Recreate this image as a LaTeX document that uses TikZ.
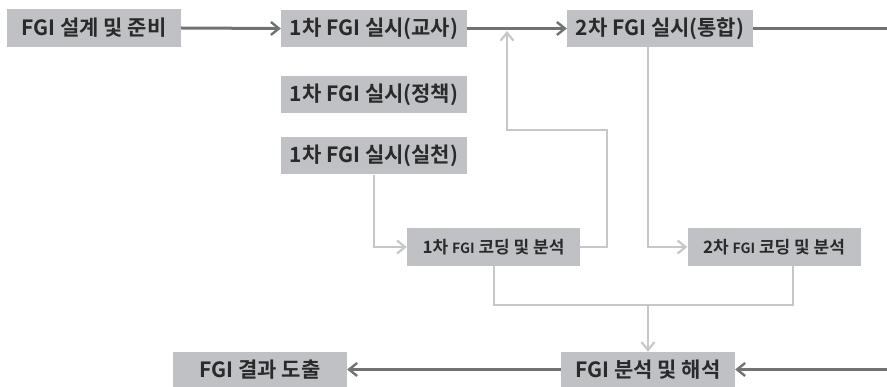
\documentclass[tikz,border=0pt]{standalone}
\usepackage{fontspec}
\setmainfont{Noto Sans CJK KR}[BoldFont={Noto Sans CJK KR Bold}]
\usetikzlibrary{arrows.meta}
\definecolor{boxgray}{HTML}{C0C1C5}
\definecolor{darkline}{HTML}{727274}
\definecolor{lightline}{HTML}{C6C7C9}
\definecolor{txt}{HTML}{2A2A2A}
\tikzset{
  box/.style={fill=boxgray, inner sep=0pt, minimum width=174pt, minimum height=38pt, text=txt, font=\fontsize{21}{23}\selectfont\bfseries},
  widebox/.style={box, minimum width=186pt, minimum height=37pt},
  smallbox/.style={box, minimum width=173pt, font=\fontsize{17}{19}\selectfont\bfseries},
  darkarrow/.style={draw=darkline, line width=3pt, -{Straight Barb[length=8pt,width=13pt,line width=2.4pt]}},
  lightarrow/.style={draw=lightline, line width=2.8pt, -{Straight Barb[length=8pt,width=13pt,line width=2.2pt]}},
  lightplain/.style={draw=lightline, line width=2.8pt}
}
\newcommand{\sfgi}{{\fontsize{14}{16}\selectfont FGI}}
\begin{document}
\begin{tikzpicture}[x=1pt,y=-1pt]
\useasboundingbox (0,0) rectangle (887,387);
\fill[white] (0,0) rectangle (887,387);
\node[box] (A) at (94,28) {FGI 설계 및 준비};
\node[widebox] (B) at (374,28.5) {1차 FGI 실시(교사)};
\node[widebox] (C) at (374,94.5) {1차 FGI 실시(정책)};
\node[widebox] (D) at (374,156) {1차 FGI 실시(실천)};
\node[widebox] (E) at (660,28.5) {2차 FGI 실시(통합)};
\node[smallbox] (F) at (493.5,247) {1차 \sfgi{} 코딩 및 분석};
\node[smallbox] (G) at (774,247) {2차 \sfgi{} 코딩 및 분석};
\node[box, minimum height=35pt] (H) at (648,369.5) {FGI 분석 및 해석};
\node[box, minimum height=35pt] (I) at (260,369.5) {FGI 결과 도출};
% coordinates
\coordinate (r1) at (905,28.5);
\coordinate (r2) at (905,369.5);
\coordinate (f1) at (607,247);
\coordinate (f2) at (607,130);
\coordinate (f3) at (507,130);
\coordinate (f4) at (507,31);
\coordinate (e1) at (648,47);
\coordinate (m1) at (494,266);
\coordinate (m2) at (494,305);
\coordinate (m3) at (793,305);
\coordinate (m4) at (793,266);
\coordinate (m5) at (648,305);
% dark connectors
\draw[darkarrow] (A.east) -- (B.west);
\draw[darkarrow] (B.east) -- (E.west);
\draw[darkarrow] (E.east) -- (r1) -- (r2) -- (H.east);
\draw[darkarrow] (H.west) -- (I.east);
% light connectors
\draw[lightarrow] (D.south) |- (F.west);
\draw[lightarrow] (F.east) -- (f1) -- (f2) -- (f3) -- (f4);
\draw[lightarrow] (e1) |- (G.west);
\draw[lightplain] (m1) -- (m2) -- (m3) -- (m4);
\draw[lightarrow] (m5) -- (H.north);
\end{tikzpicture}
\end{document}
